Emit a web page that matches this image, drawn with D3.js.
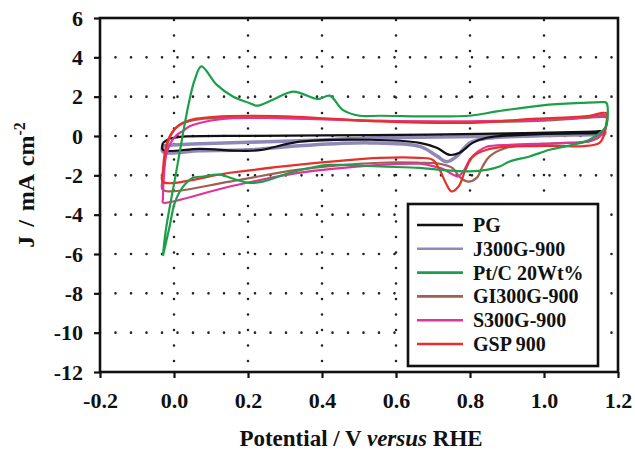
<!DOCTYPE html>
<html>
<head>
<meta charset="utf-8">
<script src="https://cdn.jsdelivr.net/npm/d3@7"></script>
<style>
  body { margin: 0; background: #fff; }
  svg text { font-family: "Liberation Serif", "Times New Roman", serif; font-weight: bold; fill: #111; }
</style>
</head>
<body>
<svg width="635" height="450"></svg>
<script>
// cyclic voltammograms, each loop given as [potential V, current J] pairs
// upper (anodic) branch left -> right, then lower (cathodic) branch back
var pgLoop = [
  [-0.030,-0.35],[-0.012,-0.14],[0.016,-0.04],[0.205,0.01],[0.529,0.04],[0.826,0.11],[1.140,0.23],[1.158,0.24],
  [1.160,0.16],[1.140,0.14],[0.988,0.09],[0.845,-0.09],[0.807,-0.35],[0.772,-0.85],[0.745,-0.96],[0.710,-0.60],
  [0.664,-0.35],[0.529,-0.19],[0.340,-0.29],[0.232,-0.72],[0.178,-0.75],[0.070,-0.65],[-0.030,-0.70],[-0.030,-0.35]
];
var j300Loop = [
  [-0.030,-0.50],[0.070,-0.40],[0.340,-0.24],[0.556,-0.09],[0.818,-0.02],[1.015,0.06],[1.145,0.19],[1.164,0.21],
  [1.164,0.11],[1.140,0.08],[0.988,0.01],[0.845,-0.12],[0.799,-0.35],[0.764,-1.04],[0.737,-1.31],[0.710,-1.01],
  [0.664,-0.53],[0.529,-0.35],[0.340,-0.50],[0.205,-0.70],[0.070,-0.75],[-0.030,-0.80],[-0.030,-0.50]
];
var ptcLoop = [
  [-0.030,-6.10],[-0.022,-4.77],[0.007,-1.72],[0.026,0.31],[0.042,1.84],[0.056,2.86],[0.074,3.54],
  [0.115,2.61],[0.159,2.01],[0.205,1.67],[0.224,1.54],[0.267,1.84],[0.322,2.26],[0.389,1.88],
  [0.421,2.05],[0.456,1.33],[0.502,1.03],[0.556,1.03],[0.799,1.03],[0.872,1.25],[0.996,1.56],[1.100,1.68],[1.160,1.72],[1.169,1.68],
  [1.169,0.55],[1.160,0.30],[1.123,-0.19],[1.077,-0.45],[1.015,-0.70],[0.961,-1.04],[0.907,-1.30],[0.880,-1.55],
  [0.845,-1.72],[0.799,-1.80],[0.718,-1.72],[0.664,-1.62],[0.556,-1.55],[0.467,-1.47],[0.421,-1.47],
  [0.386,-1.55],[0.313,-1.87],[0.240,-2.32],[0.205,-2.38],[0.169,-2.23],[0.123,-1.97],[0.078,-2.06],
  [0.050,-2.13],[0.024,-2.59],[0.002,-3.40],[-0.012,-4.62],[-0.030,-6.10]
];
var gi300Loop = [
  [-0.030,-2.23],[-0.025,-1.21],[-0.017,-0.35],[-0.003,0.21],[0.016,0.57],[0.056,0.82],[0.123,0.93],
  [0.286,0.93],[0.556,0.77],[0.799,0.70],[0.980,0.77],[1.123,0.93],[1.160,0.97],[1.169,0.94],
  [1.166,0.42],[1.145,-0.09],[1.110,-0.30],[1.024,-0.37],[0.899,-0.60],[0.853,-1.04],[0.834,-1.55],
  [0.818,-2.13],[0.794,-2.32],[0.772,-2.08],[0.753,-1.63],[0.718,-1.41],[0.664,-1.36],[0.556,-1.36],
  [0.332,-1.72],[0.151,-2.32],[-0.030,-2.74],[-0.030,-2.23]
];
var s300Loop = [
  [-0.030,-3.25],[-0.028,-2.23],[-0.021,-0.96],[-0.009,-0.35],[0.007,0.05],[0.024,0.25],[0.042,0.50],
  [0.069,0.66],[0.105,0.80],[0.160,0.91],[0.278,0.91],[0.556,0.77],[0.799,0.75],[0.980,0.82],[1.123,0.98],[1.160,1.06],[1.169,1.02],
  [1.166,0.42],[1.150,-0.04],[1.123,-0.27],[1.035,-0.37],[0.907,-0.45],[0.845,-0.55],[0.821,-0.80],
  [0.799,-1.21],[0.783,-1.77],[0.767,-2.06],[0.750,-1.92],[0.726,-1.67],[0.691,-1.49],[0.664,-1.41],
  [0.556,-1.47],[0.332,-1.89],[0.151,-2.57],[-0.030,-3.38],[-0.030,-3.25]
];
var gspLoop = [
  [-0.030,-1.82],[-0.026,-1.00],[-0.018,-0.30],[-0.005,0.20],[0.010,0.50],[0.030,0.72],[0.060,0.88],
  [0.110,0.98],[0.197,1.03],[0.332,0.98],[0.556,0.74],[0.799,0.67],[0.980,0.88],[1.123,1.03],[1.160,1.18],[1.169,1.15],
  [1.164,0.16],[1.150,-0.35],[1.104,-0.52],[1.029,-0.50],[0.899,-0.55],[0.845,-0.70],[0.807,-1.06],
  [0.786,-1.81],[0.769,-2.57],[0.750,-2.82],[0.737,-2.48],[0.718,-1.72],[0.699,-1.21],[0.664,-1.11],
  [0.556,-1.11],[0.332,-1.47],[0.151,-1.87],[-0.030,-2.33],[-0.030,-1.82]
];

var seriesNames = ["PG", "J300G-900", "Pt/C 20Wt%", "GI300G-900", "S300G-900", "GSP 900"];
var seriesColors = ["#111111", "#8f87b8", "#1c9f4a", "#9c6152", "#e2329c", "#e6302b"];
var seriesLoops = [pgLoop, j300Loop, ptcLoop, gi300Loop, s300Loop, gspLoop];
var drawOrder = [1, 0, 3, 4, 5, 2];

var xTicks = [-0.2, 0.0, 0.2, 0.4, 0.6, 0.8, 1.0, 1.2];
var yTicks = [6, 4, 2, 0, -2, -4, -6, -8, -10, -12];

var svg = d3.select("svg");
var plotLeft = 100, plotRight = 618, plotTop = 18, plotBottom = 372;

var x = d3.scaleLinear().domain([-0.2, 1.2]).range([plotLeft, plotRight]);
var y = d3.scaleLinear().domain([-12, 6]).range([plotBottom, plotTop]);

// dotted grid
var grid = svg.append("g")
    .attr("stroke", "#222")
    .attr("stroke-width", 2.6)
    .attr("stroke-linecap", "round")
    .attr("stroke-dasharray", "0,15.5");

grid.selectAll(".gv")
    .data(xTicks.slice(1, -1))
    .enter().append("line")
    .attr("x1", function(d) { return x(d); })
    .attr("x2", function(d) { return x(d); })
    .attr("y1", plotTop + 2)
    .attr("y2", plotBottom);

grid.selectAll(".gh")
    .data(yTicks.slice(1, -1))
    .enter().append("line")
    .attr("y1", function(d) { return y(d); })
    .attr("y2", function(d) { return y(d); })
    .attr("x1", plotLeft)
    .attr("x2", plotRight);

// curves
var line = d3.line()
    .x(function(d) { return x(d[0]); })
    .y(function(d) { return y(d[1]); })
    .curve(d3.curveCatmullRom.alpha(0.5));

svg.append("g")
    .selectAll("path")
    .data(drawOrder)
    .enter().append("path")
    .attr("d", function(i) { return line(seriesLoops[i]); })
    .attr("fill", "none")
    .attr("stroke", function(i) { return seriesColors[i]; })
    .attr("stroke-width", function(i) { return i == 1 ? 3.5 : 2.2; })
    .attr("stroke-linejoin", "round");

// axes
var xAxis = svg.append("g")
    .attr("transform", "translate(0," + plotBottom + ")")
    .call(d3.axisBottom(x).tickValues(xTicks).tickSize(6).tickPadding(14)
        .tickFormat(function(d) { return d.toFixed(1); }));

var yAxis = svg.append("g")
    .attr("transform", "translate(" + plotLeft + ",0)")
    .call(d3.axisLeft(y).tickValues(yTicks).tickSize(6).tickPadding(11)
        .tickFormat(function(d) { return String(d); }));

[xAxis, yAxis].forEach(function(a) {
    a.select(".domain").remove();
    a.selectAll(".tick line").attr("stroke", "#111").attr("stroke-width", 2.2);
    a.selectAll(".tick text").style("font-size", "22px").attr("fill", "#111");
});

// frame
svg.append("rect")
    .attr("x", plotLeft).attr("y", plotTop)
    .attr("width", plotRight - plotLeft).attr("height", plotBottom - plotTop)
    .attr("fill", "none")
    .attr("stroke", "#111")
    .attr("stroke-width", 2.6);

// axis titles
var xt = svg.append("text")
    .attr("x", (plotLeft + plotRight) / 2 + 2)
    .attr("y", 446)
    .attr("text-anchor", "middle")
    .style("font-size", "23px");
xt.append("tspan").text("Potential / V ");
xt.append("tspan").style("font-style", "italic").text("versus");
xt.append("tspan").text(" RHE");

var yt = svg.append("text")
    .attr("transform", "translate(34,185) rotate(-90)")
    .attr("text-anchor", "middle")
    .style("font-size", "24px")
    .style("word-spacing", "3px");
yt.append("tspan").text("J / mA cm");
yt.append("tspan").attr("dy", -9).style("font-size", "16px").text("-2");

// legend
var legend = svg.append("g");
legend.append("rect")
    .attr("x", 408).attr("y", 204)
    .attr("width", 190).attr("height", 162)
    .attr("fill", "#fff")
    .attr("stroke", "#111")
    .attr("stroke-width", 2.6);

var item = legend.selectAll(".item")
    .data(seriesNames)
    .enter().append("g")
    .attr("transform", function(d, i) { return "translate(0," + (225 + i * 23.8) + ")"; });

item.append("line")
    .attr("x1", 417).attr("x2", 463)
    .attr("stroke", function(d, i) { return seriesColors[i]; })
    .attr("stroke-width", 2.6);

item.append("text")
    .attr("x", 473)
    .attr("dy", "0.35em")
    .style("font-size", "20px")
    .text(function(d) { return d; });
</script>
</body>
</html>
